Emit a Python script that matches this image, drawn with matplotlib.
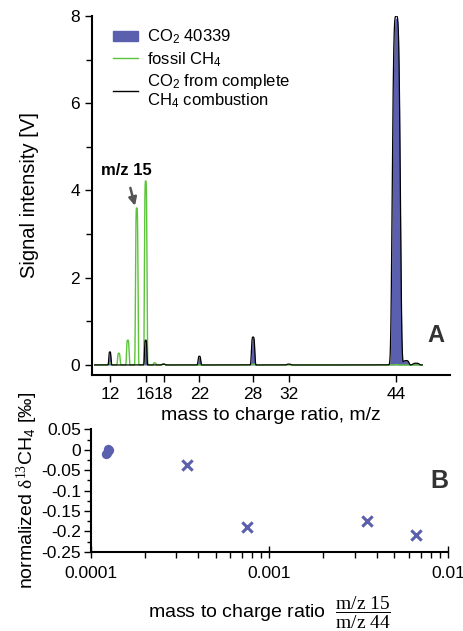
import numpy as np
import matplotlib
matplotlib.use("Agg")
import matplotlib.pyplot as plt
from matplotlib.patches import Patch
from matplotlib.lines import Line2D
from matplotlib.ticker import MultipleLocator, FixedLocator, LogLocator, NullFormatter

plt.rcParams["font.family"] = ["Liberation Sans", "DejaVu Sans"]
plt.rcParams["mathtext.fontset"] = "custom"
plt.rcParams["mathtext.rm"] = "Liberation Serif"
plt.rcParams["mathtext.it"] = "Liberation Serif:italic"

# --- panel A: mass spectrum peaks (m/z, height in V, width) ---
ch4_mz = [12, 13, 14, 15, 16, 17, 18, 28, 44]
ch4_h = [0.05, 0.27, 0.57, 3.60, 4.22, 0.05, 0.02, 0.02, 0.01]
ch4_w = [0.16, 0.16, 0.16, 0.16, 0.16, 0.16, 0.16, 0.2, 0.2]

comb_mz = [12, 16, 18, 22, 28, 32, 44, 45.1, 46.2]
comb_h = [0.30, 0.57, 0.02, 0.20, 0.64, 0.02, 8.00, 0.10, 0.04]
comb_w = [0.14, 0.15, 0.2, 0.17, 0.21, 0.25, 0.50, 0.35, 0.4]

co2_mz = [12, 16, 22, 28, 44, 45.1, 46.2]
co2_h = [0.26, 0.52, 0.18, 0.62, 7.95, 0.10, 0.04]
co2_w = [0.13, 0.14, 0.16, 0.2, 0.49, 0.35, 0.4]

xticks_a = [12, 16, 18, 22, 28, 32, 44]

# --- panel B: normalized d13CH4 vs m/z15 / m/z44 ---
circ_x = [1.22e-4, 1.23e-4, 1.25e-4, 1.26e-4, 1.255e-4]
circ_y = [-0.011, -0.008, -0.003, 0.0, 0.001]
cross_x = [3.45e-4, 7.5e-4, 3.5e-3, 6.6e-3]
cross_y = [-0.037, -0.190, -0.175, -0.209]

blue = "#5a60ae"
green = "#5cc43a"


def trace(mz, h, w):
    x = np.linspace(10.3, 46.9, 5000)
    y = np.zeros_like(x)
    for c, a, s in zip(mz, h, w):
        y += a * np.exp(-np.abs((x - c) / s) ** 4)
    return x, y


fig = plt.figure(figsize=(4.64, 6.31), dpi=100)
ax = fig.add_axes([92 / 464, 1 - 375 / 631, 358 / 464, 359 / 631])
bx = fig.add_axes([90.7 / 464, 1 - 551.7 / 631, 357.6 / 464, 122.4 / 631])

x, y = trace(co2_mz, co2_h, co2_w)
ax.fill_between(x, 0, y, color=blue, lw=0)
x, y = trace(ch4_mz, ch4_h, ch4_w)
ax.plot(x, y, color=green, lw=1)
x, y = trace(comb_mz, comb_h, comb_w)
ax.plot(x, y, color="black", lw=0.9)

ax.set_xlim(10, 50)
ax.set_ylim(-0.23, 8)
ax.spines["top"].set_visible(False)
ax.spines["right"].set_visible(False)
ax.xaxis.set_major_locator(FixedLocator(xticks_a))
ax.yaxis.set_major_locator(MultipleLocator(2))
ax.yaxis.set_minor_locator(MultipleLocator(1))
ax.tick_params(labelsize=12.5, direction="out", length=5, width=1)
ax.tick_params(which="minor", length=4, width=1)
for s in ax.spines.values():
    s.set_linewidth(1.5)
ax.set_xlabel("mass to charge ratio, m/z", fontsize=14, labelpad=4)
ax.set_ylabel("Signal intensity [V]", fontsize=14.5, labelpad=23)

handles = [Patch(color=blue),
           Line2D([], [], color=green, lw=1),
           Line2D([], [], color="black", lw=1)]
labels = [r"CO$\mathregular{_2}$ 40339", r"fossil CH$\mathregular{_4}$",
          "CO$\\mathregular{_2}$ from complete\nCH$\\mathregular{_4}$ combustion"]
leg = ax.legend(handles, labels, loc="upper left", bbox_to_anchor=(0.03, 0.995),
                frameon=False, fontsize=12, handlelength=1.5, handleheight=0.6,
                handletextpad=0.55, labelspacing=0.2, borderaxespad=0.2)
leg.get_texts()[2].set_linespacing(1.0)

ax.annotate("m/z 15", xy=(14.8, 3.65), xytext=(13.8, 4.45),
            ha="center", va="center", fontsize=12, fontweight="bold",
            arrowprops=dict(arrowstyle="-|>", color="#555555", lw=1.8,
                            shrinkA=5, shrinkB=0, mutation_scale=12))
ax.text(0.962, 0.11, "A", transform=ax.transAxes, fontsize=17,
        fontweight="bold", color="#333333", ha="center", va="center")

# panel B
bx.scatter(circ_x, circ_y, s=45, color=blue, marker="o", lw=0)
bx.scatter(cross_x, cross_y, s=55, color=blue, marker="x", lw=2.2)
bx.set_xscale("log")
bx.set_xlim(1e-4, 1e-2)
bx.set_ylim(-0.25, 0.05)
bx.spines["top"].set_visible(False)
bx.spines["right"].set_visible(False)
for s in bx.spines.values():
    s.set_linewidth(1.5)
bx.xaxis.set_major_locator(FixedLocator([1e-4, 1e-3, 1e-2]))
bx.xaxis.set_minor_locator(LogLocator(base=10, subs=np.arange(2, 10)))
bx.xaxis.set_minor_formatter(NullFormatter())
bx.set_xticklabels(["0.0001", "0.001", "0.01"])
bx.yaxis.set_minor_locator(MultipleLocator(0.025))
bx.set_yticks([0.05, 0, -0.05, -0.1, -0.15, -0.2, -0.25])
bx.set_yticklabels(["0.05", "0", "-0.05", "-0.1", "-0.15", "-0.2", "-0.25"])
bx.tick_params(axis="x", which="major", direction="inout", length=8, width=1,
               labelsize=12.5, pad=6)
bx.tick_params(axis="x", which="minor", direction="out", length=4, width=1)
bx.tick_params(axis="y", which="major", direction="out", length=5, width=1,
               labelsize=12.5, pad=2)
bx.tick_params(axis="y", which="minor", direction="out", length=3, width=1)
bx.set_xlabel(r"mass to charge ratio  $\dfrac{\mathrm{m/z\ 15}}{\mathrm{m/z\ 44}}$",
              fontsize=14, labelpad=10)
bx.set_ylabel(r"normalized $\mathrm{\delta^{13}}$CH$\mathregular{_4}$ [‰]",
              fontsize=14, labelpad=1)
bx.text(0.974, 0.58, "B", transform=bx.transAxes, fontsize=18,
        fontweight="bold", color="#333333", ha="center", va="center")

fig.savefig("out.png", dpi=100)
